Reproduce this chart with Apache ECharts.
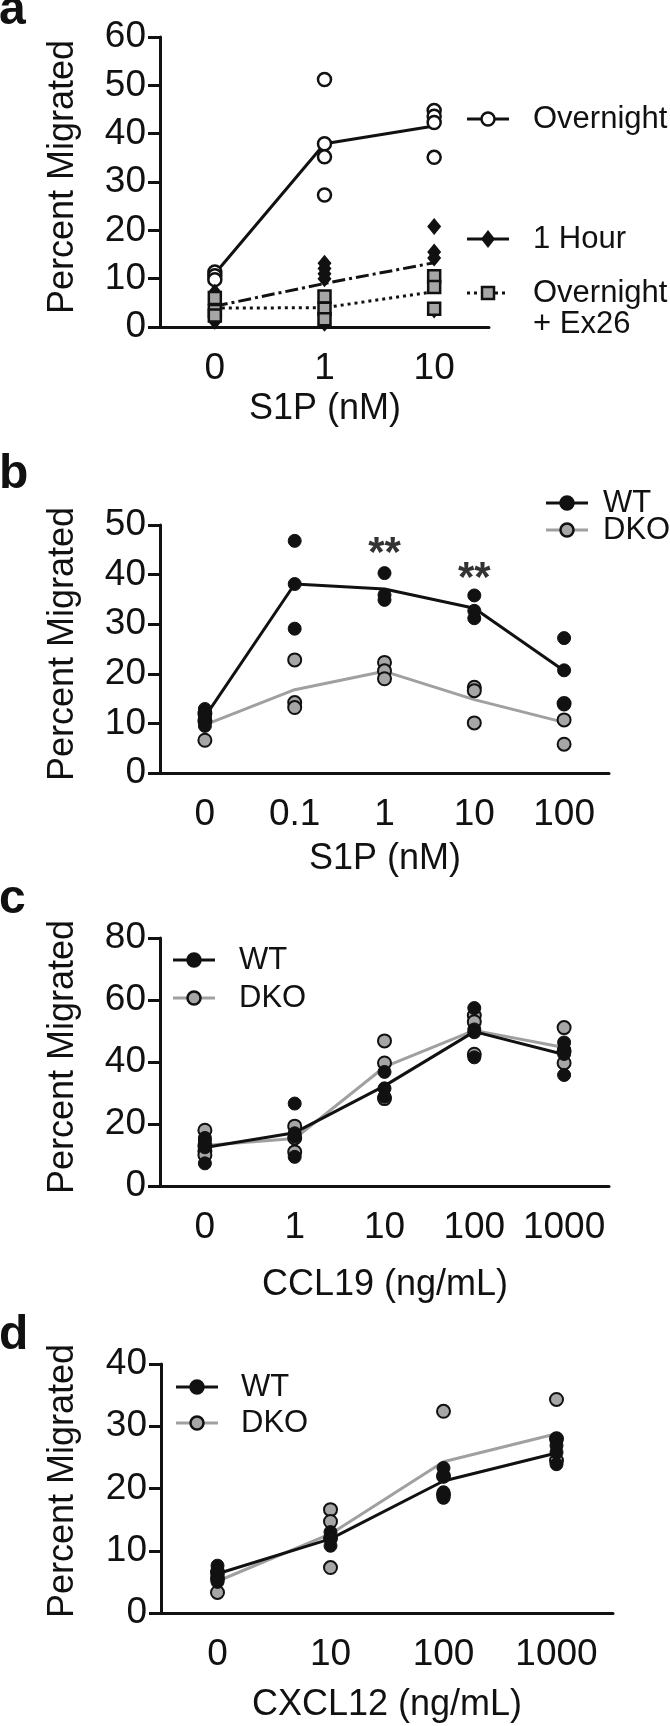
<!DOCTYPE html>
<html>
<head>
<meta charset="utf-8">
<script src="https://cdn.jsdelivr.net/npm/echarts@6/dist/echarts.min.js"></script>
<style>
html, body { margin: 0; padding: 0; background: #fff; }
#main { width: 670px; height: 1726px; }
</style>
</head>
<body>
<div id="main"></div>
<script>
// ---------- data ----------
// panel a : S1P (nM)
var catsA = ['0', '1', '10'];
var overnightPts = [[11.4, 10.6, 9.8], [51.2, 37.9, 35.2, 27.3], [44.8, 43.6, 42.3, 35.1]];
var overnightMean = [11.0, 37.9, 41.6];
var hourPts = [[7.2, 5.9, 3.0, 1.2], [13.2, 12.1, 11.0, 10.0, 0.8], [20.8, 15.5, 14.3, 3.5]];
var hourMean = [4.3, 9.0, 13.3];
var ex26Pts = [[6.0, 3.3, 2.4], [6.3, 3.8, 1.6], [10.5, 8.3, 3.8]];
var ex26Mean = [3.9, 4.0, 7.3];

// panel b : S1P (nM)
var catsB = ['0', '0.1', '1', '10', '100'];
var wtB = [[12.9, 12.1, 11.4, 10.7, 9.5], [46.8, 38.1, 29.1], [40.3, 35.9, 34.9], [35.8, 32.7, 31.2], [27.2, 20.7, 13.8]];
var wtBMean = [11.3, 38.1, 37.1, 33.2, 20.6];
var dkoB = [[12.0, 10.5, 6.6], [22.8, 14.2, 13.2], [22.3, 20.6, 19.0], [17.3, 16.6, 10.1], [14.0, 10.7, 5.8]];
var dkoBMean = [9.7, 16.8, 20.5, 14.8, 10.2];
var sigCatsB = [2, 3];
var sigYB = [44.1, 39.1];

// panel c : CCL19 (ng/mL)
var catsC = ['0', '1', '10', '100', '1000'];
var wtC = [[15.5, 14.5, 12.5, 7.3], [26.6, 17.0, 16.0, 9.4], [36.8, 31.5, 28.8], [57.4, 50.5, 49.6, 41.5], [46.3, 44.0, 42.6, 35.8]];
var wtCMean = [12.4, 17.2, 32.3, 49.8, 42.4];
var dkoC = [[18.0, 13.0, 11.3, 10.0], [19.3, 15.5, 11.0], [46.8, 39.7, 28.2], [55.0, 53.0, 42.5], [51.1, 43.5, 39.7]];
var dkoCMean = [13.1, 15.3, 38.4, 50.2, 44.7];

// panel d : CXCL12 (ng/mL)
var catsD = ['0', '10', '100', '1000'];
var wtD = [[7.6, 6.8, 6.0, 5.0], [13.0, 12.0, 10.8], [23.3, 21.9, 19.4, 18.5], [28.0, 26.9, 25.8, 23.9]];
var wtDMean = [6.3, 11.9, 21.2, 25.7];
var dkoD = [[6.5, 5.5, 3.3], [16.6, 14.7, 12.0, 7.3], [32.4, 22.0, 19.0], [34.3, 28.0, 24.5]];
var dkoDMean = [5.1, 12.7, 24.3, 28.8];

// y axis ranges
var yMax = [60, 50, 80, 40];
var yStep = [10, 10, 20, 10];

// ---------- styling ----------
var INK = '#111';
var GREY = '#a6a6a6';
var GREY_LINE = '#a0a0a0';
var FONT = '"Liberation Sans", Arial, Helvetica, sans-serif';

var chart = echarts.init(document.getElementById('main'), null, { renderer: 'canvas' });

// flatten replicate groups into [categoryIndex, value]
function pts(groups) {
    var out = [];
    groups.forEach(function (g, i) {
        g.forEach(function (v) { out.push([i, v]); });
    });
    return out;
}

function xAxisFor(i, cats) {
    return {
        type: 'category', gridIndex: i, data: cats, boundaryGap: true,
        axisLine: { lineStyle: { color: INK, width: 3 } },
        axisTick: { alignWithLabel: true, length: 12, lineStyle: { color: INK, width: 3 } },
        axisLabel: { color: INK, fontSize: 37, fontFamily: FONT, margin: 23, interval: 0 },
        splitLine: { show: false }
    };
}

function yAxisFor(i) {
    return {
        type: 'value', gridIndex: i, min: 0, max: yMax[i], interval: yStep[i],
        axisLine: { show: true, lineStyle: { color: INK, width: 3 } },
        axisTick: { show: true, length: 12, lineStyle: { color: INK, width: 3 } },
        axisLabel: { color: INK, fontSize: 37, fontFamily: FONT, margin: 14 },
        splitLine: { show: false }
    };
}

function meanLine(i, data, color, type) {
    return {
        type: 'line', xAxisIndex: i, yAxisIndex: i, data: data, symbol: 'none',
        lineStyle: { color: color, width: 3, type: type }, itemStyle: { color: color },
        silent: true, z: 2
    };
}

function dots(i, groups, symbol, size, fill, border, bw) {
    return {
        type: 'scatter', xAxisIndex: i, yAxisIndex: i, data: pts(groups),
        symbol: symbol, symbolSize: size,
        itemStyle: { color: fill, borderColor: border, borderWidth: bw, opacity: 1 },
        silent: true, z: 3
    };
}

// legend pieces (drawn as graphics)
function legendLine(x, y, color, dash) {
    return { type: 'line', shape: { x1: x - 21, y1: y, x2: x + 21, y2: y },
        style: { stroke: color, lineWidth: 3, lineDash: dash || null }, z: 10 };
}
function legendCircle(x, y, fill, stroke) {
    return { type: 'circle', shape: { cx: x, cy: y, r: 6.5 },
        style: { fill: fill, stroke: stroke, lineWidth: 2.5 }, z: 11 };
}
function txt(x, y, s, size, opts) {
    opts = opts || {};
    return {
        type: 'text', x: x, y: y, rotation: opts.rot || 0, z: 12,
        style: {
            text: s, fill: INK,
            font: (opts.bold ? 'bold ' : '') + size + 'px ' + FONT,
            textAlign: opts.align || 'left', align: opts.align || 'left',
            textVerticalAlign: 'middle', verticalAlign: 'middle'
        }
    };
}

var DASHDOT = [13, 4, 3, 4];
var DOTTED = [3, 4];

var graphics = [
    // panel letters
    txt(-1, 11, 'a', 48, { bold: true }),
    txt(-1, 475, 'b', 48, { bold: true }),
    txt(-1, 900, 'c', 48, { bold: true }),
    txt(-1, 1336, 'd', 48, { bold: true }),
    // y titles
    txt(63, 177, 'Percent Migrated', 36, { rot: Math.PI / 2, align: 'center' }),
    txt(63, 644, 'Percent Migrated', 36, { rot: Math.PI / 2, align: 'center' }),
    txt(63, 1057, 'Percent Migrated', 36, { rot: Math.PI / 2, align: 'center' }),
    txt(63, 1481, 'Percent Migrated', 36, { rot: Math.PI / 2, align: 'center' }),
    // x titles
    txt(325, 409, 'S1P (nM)', 36, { align: 'center' }),
    txt(385, 859, 'S1P (nM)', 36, { align: 'center' }),
    txt(385, 1285, 'CCL19 (ng/mL)', 36, { align: 'center' }),
    txt(387, 1705, 'CXCL12 (ng/mL)', 36, { align: 'center' }),

    // legend a
    legendLine(488, 119, INK),
    legendCircle(488, 119, '#fff', INK),
    txt(533, 119, 'Overnight', 31),
    legendLine(488, 239, INK),
    { type: 'polygon', shape: { points: [[488, 230], [495, 239], [488, 248], [481, 239]] },
      style: { fill: INK }, z: 11 },
    txt(533, 239, '1 Hour', 31),
    legendLine(488, 293, INK, DOTTED),
    { type: 'rect', shape: { x: 482, y: 287, width: 12, height: 12 },
      style: { fill: GREY, stroke: INK, lineWidth: 2.5 }, z: 11 },
    txt(533, 293, 'Overnight', 31),
    txt(533, 324, '+ Ex26', 31),

    // legend b
    legendLine(567, 503, INK), legendCircle(567, 503, INK, INK), txt(603, 503, 'WT', 31),
    legendLine(567, 530, GREY_LINE), legendCircle(567, 530, GREY, INK), txt(603, 530, 'DKO', 31),
    // legend c
    legendLine(194, 960, INK), legendCircle(194, 960, INK, INK), txt(239, 960, 'WT', 31),
    legendLine(194, 998, GREY_LINE), legendCircle(194, 998, GREY, INK), txt(239, 998, 'DKO', 31),
    // legend d
    legendLine(197, 1387, INK), legendCircle(197, 1387, INK, INK), txt(241, 1387, 'WT', 31),
    legendLine(197, 1423, GREY_LINE), legendCircle(197, 1423, GREY, INK), txt(241, 1423, 'DKO', 31)
];

var sigData = sigCatsB.map(function (c, k) { return [c, sigYB[k]]; });

var option = {
    animation: false,
    backgroundColor: '#fff',
    textStyle: { fontFamily: FONT },
    grid: [
        { left: 160, top: 37, width: 329, height: 290 },
        { left: 160, top: 525, width: 449, height: 248 },
        { left: 160, top: 938, width: 449, height: 248 },
        { left: 161, top: 1364, width: 452, height: 249 }
    ],
    xAxis: [xAxisFor(0, catsA), xAxisFor(1, catsB), xAxisFor(2, catsC), xAxisFor(3, catsD)],
    yAxis: [yAxisFor(0), yAxisFor(1), yAxisFor(2), yAxisFor(3)],
    series: [
        // a
        meanLine(0, overnightMean, INK, 'solid'),
        meanLine(0, hourMean, INK, DASHDOT),
        meanLine(0, ex26Mean, INK, DOTTED),
        dots(0, overnightPts, 'circle', 13, '#fff', INK, 2.5),
        dots(0, hourPts, 'diamond', [14, 17], INK, INK, 0),
        dots(0, ex26Pts, 'rect', 12, GREY, INK, 2.5),
        // b
        meanLine(1, dkoBMean, GREY_LINE, 'solid'),
        dots(1, dkoB, 'circle', 13, GREY, INK, 2),
        meanLine(1, wtBMean, INK, 'solid'),
        dots(1, wtB, 'circle', 13, INK, INK, 1),
        {
            type: 'scatter', xAxisIndex: 1, yAxisIndex: 1, data: sigData,
            symbolSize: 1, itemStyle: { color: 'rgba(0,0,0,0)' }, silent: true, z: 5,
            label: { show: true, position: 'inside', formatter: '**', color: '#000',
                fontSize: 42, fontWeight: 'bold', fontFamily: FONT }
        },
        // c
        meanLine(2, dkoCMean, GREY_LINE, 'solid'),
        dots(2, dkoC, 'circle', 13, GREY, INK, 2),
        meanLine(2, wtCMean, INK, 'solid'),
        dots(2, wtC, 'circle', 13, INK, INK, 1),
        // d
        meanLine(3, dkoDMean, GREY_LINE, 'solid'),
        dots(3, dkoD, 'circle', 13, GREY, INK, 2),
        meanLine(3, wtDMean, INK, 'solid'),
        dots(3, wtD, 'circle', 13, INK, INK, 1)
    ],
    graphic: graphics
};

chart.setOption(option);
</script>
</body>
</html>
